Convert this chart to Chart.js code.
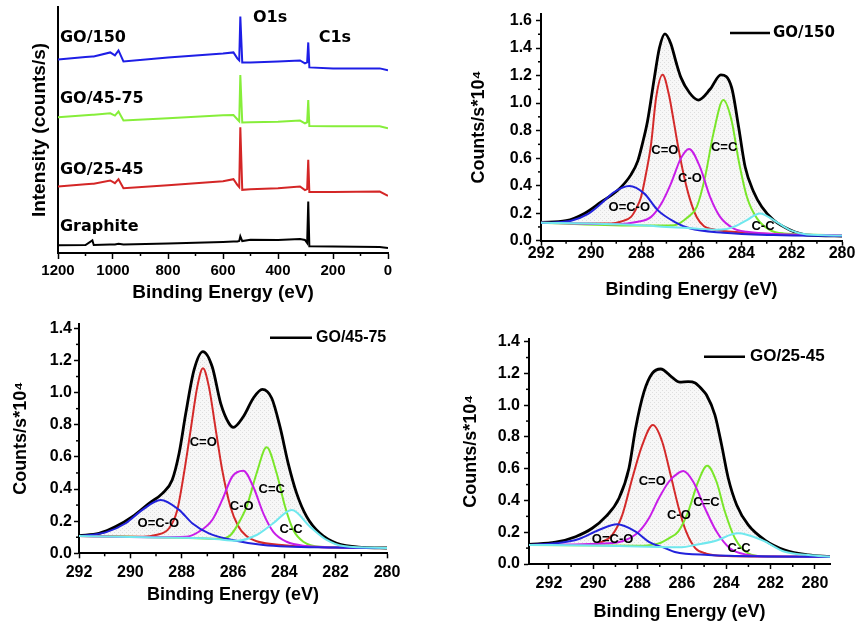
<!DOCTYPE html>
<html>
<head>
<meta charset="utf-8">
<script src="https://cdn.jsdelivr.net/npm/chart.js@4.4.1/dist/chart.umd.min.js"></script>
<style>
  body { margin: 0; background: #fff; }
  #wrap { position: relative; width: 857px; height: 625px; }
  canvas { position: absolute; }
</style>
</head>
<body>
<div id="wrap">
  <canvas id="survey" width="420" height="310" style="left:0;top:0"></canvas>
  <canvas id="go150" width="427" height="310" style="left:430px;top:0"></canvas>
  <canvas id="go4575" width="420" height="315" style="left:0;top:310px"></canvas>
  <canvas id="go2545" width="427" height="315" style="left:430px;top:310px"></canvas>
</div>
<script>
// survey spectra (stacked, arbitrary offset units)
const surveyEnergy = [1200, 1100, 1075, 1070, 1010, 993, 980, 962, 800, 600, 562, 548, 541, 537, 530, 500, 400, 320, 302, 294, 290, 286, 200, 30, 0];
const surveyGO150 = [194, 196.5, 197, 197, 201, 198, 203, 192, 196, 200, 201, 195, 193, 237, 191, 191, 192, 193, 190, 191, 211, 186, 185, 185, 183];
const surveyGO4575 = [136, 138, 138.5, 138.5, 140, 137.7, 141.7, 132.7, 135, 138, 138.3, 134, 132, 178.3, 130.7, 131, 131.5, 132.7, 130, 131, 153.3, 127.3, 127, 127, 125];
const surveyGO2545 = [66.7, 69, 69.5, 69.5, 72.7, 70, 74, 65, 68, 72, 74, 68.3, 66, 126, 63.3, 64, 65, 66.7, 63, 64, 93.3, 61, 61, 61.5, 57.3];
const surveyGraphite = [7.7, 8, 12.7, 8, 8.5, 8.5, 9.3, 8.5, 9.5, 11, 11.5, 11.5, 12, 16.7, 12, 13.3, 13, 14, 13, 10, 51.7, 6.7, 6.5, 6, 5];
const surveyTicks = [0, 200, 400, 600, 800, 1000, 1200];

// C1s fits, GO/150
const go150EnvE = [292, 291, 290.27, 289.6, 288.94, 288.41, 288.14, 287.95, 287.75, 287.48, 287.28, 287.06, 286.82, 286.62, 286.42, 286.08, 285.73, 285.26, 284.83, 284.4, 284.12, 283.86, 283.52, 283.2, 282.73, 282.06, 281.4, 280];
const go150EnvI = [0.133, 0.145, 0.198, 0.282, 0.366, 0.48, 0.58, 0.71, 0.872, 1.185, 1.40, 1.503, 1.43, 1.30, 1.185, 1.075, 1.022, 1.10, 1.205, 1.113, 0.824, 0.535, 0.354, 0.246, 0.15, 0.077, 0.041, 0.034];
const go150CdoE = [292, 290, 289.2, 288.8, 288.41, 288.2, 288.01, 287.8, 287.61, 287.41, 287.15, 286.9, 286.72, 286.55, 286.3, 286.06, 285.79, 285.5, 285.2, 284, 282, 280];
const go150CdoI = [0.13, 0.125, 0.125, 0.14, 0.173, 0.235, 0.318, 0.5, 0.704, 1.04, 1.205, 1.06, 0.88, 0.70, 0.47, 0.30, 0.17, 0.105, 0.085, 0.06, 0.045, 0.04];
const go150CoE = [292, 289, 288.14, 287.61, 287.2, 286.82, 286.42, 286.1, 285.66, 285.26, 284.86, 284.33, 283.8, 282, 280];
const go150CoI = [0.13, 0.12, 0.137, 0.173, 0.27, 0.415, 0.60, 0.667, 0.535, 0.318, 0.173, 0.09, 0.065, 0.045, 0.04];
const go150CdcE = [292, 288, 286.68, 286.15, 285.79, 285.46, 285.13, 284.73, 284.4, 284.12, 283.79, 283.39, 282.87, 282.33, 280];
const go150CdcI = [0.13, 0.11, 0.113, 0.17, 0.246, 0.462, 0.776, 1.022, 0.872, 0.583, 0.318, 0.162, 0.077, 0.053, 0.04];
const go150OcoE = [292, 291.47, 290.8, 290.14, 289.6, 289.08, 288.48, 287.88, 287.35, 286.68, 286.08, 284.73, 282.73, 280];
const go150OcoI = [0.13, 0.133, 0.145, 0.193, 0.27, 0.354, 0.397, 0.342, 0.222, 0.137, 0.09, 0.058, 0.041, 0.034];
const go150CcE = [292, 290, 288, 287, 286, 285, 284.6, 284.32, 283.79, 283.27, 282.73, 282.07, 281.4, 280];
const go150CcI = [0.13, 0.125, 0.112, 0.10, 0.09, 0.08, 0.085, 0.10, 0.15, 0.198, 0.15, 0.077, 0.045, 0.038];

// C1s fits, GO/45-75
const go4575EnvE = [292, 291.22, 290.57, 289.92, 289.27, 288.75, 288.37, 288.1, 287.84, 287.52, 287.17, 286.81, 286.48, 286.16, 285.99, 285.6, 285.21, 284.86, 284.49, 284.17, 283.85, 283.52, 283.13, 282.61, 281.96, 280.92, 280];
const go4575EnvI = [0.11, 0.124, 0.166, 0.228, 0.311, 0.373, 0.456, 0.622, 0.871, 1.14, 1.255, 1.161, 0.933, 0.809, 0.784, 0.85, 0.965, 1.02, 0.965, 0.788, 0.56, 0.373, 0.228, 0.124, 0.062, 0.037, 0.033];
const go4575CdoE = [292, 289.5, 289.01, 288.49, 288.17, 287.91, 287.65, 287.39, 287.17, 286.94, 286.67, 286.42, 286.1, 285.8, 285.5, 285.08, 284, 282, 280];
const go4575CdoI = [0.107, 0.103, 0.114, 0.156, 0.27, 0.498, 0.767, 1.037, 1.151, 1.037, 0.767, 0.518, 0.29, 0.17, 0.11, 0.075, 0.05, 0.036, 0.033];
const go4575CoE = [292, 289, 287.84, 287.33, 286.81, 286.42, 286.03, 285.6, 285.21, 284.82, 284.43, 283.91, 283.13, 282, 280];
const go4575CoI = [0.107, 0.1, 0.103, 0.134, 0.207, 0.332, 0.477, 0.514, 0.414, 0.249, 0.134, 0.072, 0.045, 0.036, 0.033];
const go4575CdcE = [292, 288, 286.5, 286.12, 285.86, 285.47, 285.08, 284.69, 284.3, 283.97, 283.65, 283.26, 282.61, 280];
const go4575CdcI = [0.107, 0.097, 0.09, 0.11, 0.166, 0.29, 0.498, 0.66, 0.498, 0.29, 0.145, 0.072, 0.041, 0.033];
const go4575OcoE = [292, 290.96, 290.18, 289.53, 288.82, 288.1, 287.59, 286.94, 286.03, 284.82, 282, 280];
const go4575OcoI = [0.107, 0.13, 0.187, 0.27, 0.332, 0.27, 0.187, 0.124, 0.083, 0.052, 0.036, 0.033];
const go4575CcE = [292, 289.4, 286.81, 285.86, 285.08, 284.43, 283.71, 283.0, 282.35, 281.7, 280];
const go4575CcI = [0.107, 0.10, 0.091, 0.078, 0.114, 0.187, 0.27, 0.166, 0.083, 0.045, 0.033];

// C1s fits, GO/25-45
const go2545EnvE = [292.9, 291.7, 290.8, 290.05, 289.44, 288.84, 288.39, 288.09, 287.71, 287.34, 286.96, 286.44, 286.1, 285.72, 285.4, 285.1, 284.89, 284.51, 284.21, 283.91, 283.53, 283.01, 282.26, 281.36, 280.3, 279.32];
const go2545EnvI = [0.124, 0.137, 0.172, 0.225, 0.298, 0.414, 0.603, 0.855, 1.085, 1.2, 1.228, 1.175, 1.145, 1.148, 1.14, 1.10, 1.064, 0.938, 0.749, 0.54, 0.372, 0.246, 0.151, 0.088, 0.057, 0.046];
const go2545CdoE = [292.9, 290.5, 289.6, 289.14, 288.69, 288.24, 287.79, 287.31, 286.89, 286.51, 286.14, 285.8, 285.4, 284.9, 284, 282, 279.32];
const go2545CdoI = [0.12, 0.12, 0.14, 0.183, 0.309, 0.54, 0.749, 0.875, 0.77, 0.56, 0.35, 0.2, 0.1, 0.065, 0.05, 0.047, 0.046];
const go2545CoE = [292.9, 289.29, 288.54, 287.94, 287.49, 287.04, 286.59, 286.14, 285.94, 285.49, 284.96, 284.44, 283.84, 283.01, 282, 279.32];
const go2545CoI = [0.12, 0.13, 0.151, 0.204, 0.288, 0.414, 0.518, 0.575, 0.586, 0.518, 0.351, 0.204, 0.099, 0.057, 0.047, 0.046];
const go2545CdcE = [292.9, 288, 287.04, 286.59, 286.17, 285.72, 285.27, 284.86, 284.44, 284.06, 283.61, 283.01, 282.26, 279.32];
const go2545CdcI = [0.12, 0.115, 0.13, 0.162, 0.204, 0.329, 0.518, 0.619, 0.518, 0.329, 0.162, 0.067, 0.048, 0.046];
const go2545OcoE = [292.9, 291.7, 290.65, 289.75, 288.92, 288.09, 287.49, 286.74, 286.32, 284.81, 282, 279.32];
const go2545OcoI = [0.12, 0.13, 0.157, 0.214, 0.25, 0.204, 0.14, 0.099, 0.076, 0.057, 0.048, 0.046];
const go2545CcE = [292.9, 290, 288, 286, 285.41, 284.51, 283.47, 282.4, 281.36, 280.3, 279.32];
const go2545CcI = [0.12, 0.117, 0.11, 0.105, 0.12, 0.145, 0.193, 0.151, 0.077, 0.057, 0.046];

const beTicks = [280, 282, 284, 286, 288, 290, 292];
const countTicks16 = [0, 0.2, 0.4, 0.6, 0.8, 1.0, 1.2, 1.4, 1.6];
const countTicks14 = [0, 0.2, 0.4, 0.6, 0.8, 1.0, 1.2, 1.4];

const SANS = "'Liberation Sans', Arial, sans-serif";
Chart.defaults.font.family = SANS;
Chart.defaults.font.weight = 'bold';
Chart.defaults.color = '#000';

const pts = (xs, ys) => xs.map((x, i) => ({x: x, y: ys[i]}));
const mids = vals => vals.slice(1).map((v, i) => (v + vals[i]) / 2);
const setTicks = vals => scale => { scale.ticks = vals.map(v => ({value: v})); };

// short unlabelled ticks between the major ones
const minorTicks = {
  id: 'minorTicks',
  afterDraw(chart, args, opts) {
    const ctx = chart.ctx;
    ctx.save();
    ctx.strokeStyle = '#000';
    ctx.lineWidth = 1.5;
    ['x', 'y'].forEach(id => {
      const scale = chart.scales[id];
      if (!opts[id]) return;
      opts[id].forEach(v => {
        const p = scale.getPixelForValue(v);
        ctx.beginPath();
        if (id === 'x') { ctx.moveTo(p, scale.top); ctx.lineTo(p, scale.top + opts.len); }
        else { ctx.moveTo(scale.right, p); ctx.lineTo(scale.right - opts.len, p); }
        ctx.stroke();
      });
    });
    ctx.restore();
  }
};

// in-plot labels and the one-line key
const notes = {
  id: 'notes',
  afterDatasetsDraw(chart, args, opts) {
    const {ctx, scales: {x, y}} = chart;
    ctx.save();
    ctx.fillStyle = '#000';
    ctx.textBaseline = 'middle';
    (opts.items || []).forEach(n => {
      ctx.font = n.font;
      ctx.textAlign = n.align || 'center';
      ctx.fillText(n.text, x.getPixelForValue(n.x), y.getPixelForValue(n.y));
    });
    const k = opts.key;
    if (k) {
      ctx.strokeStyle = '#000';
      ctx.lineWidth = 2.5;
      ctx.beginPath(); ctx.moveTo(k.x0, k.y); ctx.lineTo(k.x1, k.y); ctx.stroke();
      ctx.font = k.font;
      ctx.textAlign = 'left';
      ctx.fillText(chart.data.datasets[0].label, k.x1 + k.gap, k.y);
    }
    ctx.restore();
  }
};
Chart.register(minorTicks, notes);

function stipple(ctx) {
  const c = document.createElement('canvas');
  c.width = 4; c.height = 4;
  const g = c.getContext('2d');
  g.fillStyle = '#f7f7f7'; g.fillRect(0, 0, 4, 4);
  g.fillStyle = '#dedede'; g.fillRect(0, 0, 1, 1); g.fillRect(2, 2, 1, 1);
  return ctx.createPattern(c, 'repeat');
}

// ---- survey panel ----
const lbl = "bold 16px 'DejaVu Sans'";
new Chart(document.getElementById('survey'), {
  type: 'line',
  data: {
    datasets: [
      {label: 'GO/150', data: pts(surveyEnergy, surveyGO150), borderColor: '#1e1ee6'},
      {label: 'GO/45-75', data: pts(surveyEnergy, surveyGO4575), borderColor: '#86ee3a'},
      {label: 'GO/25-45', data: pts(surveyEnergy, surveyGO2545), borderColor: '#d42626'},
      {label: 'Graphite', data: pts(surveyEnergy, surveyGraphite), borderColor: '#000'}
    ]
  },
  options: {
    responsive: false,
    animation: false,
    layout: {padding: {left: 0, top: 7, right: 32, bottom: 0}},
    elements: {point: {radius: 0}, line: {tension: 0, borderWidth: 2}},
    plugins: {
      legend: {display: false},
      tooltip: {enabled: false},
      minorTicks: {x: mids(surveyTicks), len: 3},
      notes: {items: [
        {text: 'GO/150', x: 1193, y: 216, align: 'left', font: lbl},
        {text: 'GO/45-75', x: 1193, y: 154.5, align: 'left', font: lbl},
        {text: 'GO/25-45', x: 1193, y: 83, align: 'left', font: lbl},
        {text: 'Graphite', x: 1193, y: 26, align: 'left', font: lbl},
        {text: 'O1s', x: 429, y: 236, font: lbl},
        {text: 'C1s', x: 193, y: 216, font: lbl}
      ]}
    },
    scales: {
      x: {
        type: 'linear', reverse: true, min: 0, max: 1200,
        afterFit: s => { s.height = 57; },
        afterBuildTicks: setTicks(surveyTicks),
        ticks: {font: {size: 15}, padding: 3, maxRotation: 0, autoSkip: false, callback: v => String(v)},
        grid: {drawOnChartArea: false, tickLength: 6, tickWidth: 1.5, tickColor: '#000'},
        border: {color: '#000', width: 2},
        title: {display: true, text: 'Binding Energy (eV)', font: {size: 19}, padding: {top: 0, bottom: 5.6}}
      },
      y: {
        min: 0, max: 246.5,
        afterFit: s => { s.width = 58; },
        ticks: {display: false},
        grid: {display: false},
        border: {color: '#000', width: 2},
        title: {display: true, text: 'Intensity (counts/s)', font: {size: 19}, padding: {top: 28.6, bottom: 0}}
      }
    }
  }
});

// ---- C1s fit panels ----
const small = "bold 13px 'Liberation Sans'";
function fitPanel(id, p) {
  const cv = document.getElementById(id);
  const ctx = cv.getContext('2d');
  const line = (label, xs, ys, color, order) => ({label: label, data: pts(xs, ys), borderColor: color, borderWidth: 2, order: order});
  const datasets = [
    {label: p.name, data: pts(p.env[0], p.env[1]), borderColor: '#000', borderWidth: 2.8,
     fill: {target: 5}, backgroundColor: stipple(ctx), order: 10},
    line('C=O', p.cdo[0], p.cdo[1], '#d42a2a', 6),
    line('C=C', p.cdc[0], p.cdc[1], '#7ae62a', 5),
    line('C-O', p.co[0], p.co[1], '#c81ee8', 4),
    line('O=C-O', p.oco[0], p.oco[1], '#2222dc', 2),
    line('C-C', p.cc[0], p.cc[1], '#70e8ee', 1)
  ];
  new Chart(cv, {
    type: 'line',
    data: {datasets: datasets},
    options: {
      responsive: false,
      animation: false,
      layout: {padding: {left: 0, top: p.area.top, right: cv.width - p.area.right, bottom: 0}},
      elements: {point: {radius: 0}, line: {cubicInterpolationMode: 'monotone'}},
      plugins: {
        legend: {display: false},
        tooltip: {enabled: false},
        minorTicks: {x: mids(beTicks), y: mids(p.yTicks), len: 3},
        notes: {
          items: p.labels.map(l => ({text: l[0], x: l[1], y: l[2], font: small})),
          key: p.key
        }
      },
      scales: {
        x: {
          type: 'linear', reverse: true, min: p.xMin, max: p.xMax,
          afterFit: s => { s.height = cv.height - p.area.bottom; },
          afterBuildTicks: setTicks(beTicks),
          ticks: {font: {size: 16}, padding: p.xPad, maxRotation: 0, autoSkip: false, callback: v => String(v)},
          grid: {drawOnChartArea: false, tickLength: 5, tickWidth: 1.5, tickColor: '#000'},
          border: {color: '#000', width: 2},
          title: {display: true, text: 'Binding Energy (eV)', font: {size: 18}, padding: {top: 0, bottom: p.xTitle}}
        },
        y: {
          min: 0, max: p.yMax,
          afterFit: s => { s.width = p.area.left; },
          afterBuildTicks: setTicks(p.yTicks),
          ticks: {font: {size: 16}, padding: p.yPad, callback: v => v.toFixed(1)},
          grid: {drawOnChartArea: false, tickLength: 5, tickWidth: 1.5, tickColor: '#000'},
          border: {color: '#000', width: 2},
          title: {display: true, text: 'Counts/s*10\u2074', font: {size: 18}, padding: {top: p.yTitle, bottom: 0}}
        }
      }
    }
  });
}

fitPanel('go150', {
  name: 'GO/150',
  env: [go150EnvE, go150EnvI], cdo: [go150CdoE, go150CdoI], co: [go150CoE, go150CoI],
  cdc: [go150CdcE, go150CdcI], oco: [go150OcoE, go150OcoI], cc: [go150CcE, go150CcI],
  xMin: 280, xMax: 292, yMax: 1.65, yTicks: countTicks16,
  area: {left: 111, top: 12.3, right: 412, bottom: 240.7},
  xPad: -2, yPad: 4, xTitle: 9.2, yTitle: 38.2,
  key: {x0: 300, x1: 340, y: 33, gap: 3, font: "bold 15px 'DejaVu Sans'"},
  labels: [['C=O', 287.06, 0.655], ['C-O', 286.06, 0.45], ['C=C', 284.7, 0.68], ['O=C-O', 288.48, 0.241], ['C-C', 283.15, 0.106]]
});

fitPanel('go4575', {
  name: 'GO/45-75',
  env: [go4575EnvE, go4575EnvI], cdo: [go4575CdoE, go4575CdoI], co: [go4575CoE, go4575CoI],
  cdc: [go4575CdcE, go4575CdcI], oco: [go4575OcoE, go4575OcoI], cc: [go4575CcE, go4575CcI],
  xMin: 280, xMax: 292, yMax: 1.43, yTicks: countTicks14,
  area: {left: 79, top: 13.5, right: 387, bottom: 243.3},
  xPad: 4.4, yPad: 2, xTitle: 19.2, yTitle: 10.2,
  key: {x0: 270, x1: 312, y: 27.7, gap: 4, font: "bold 16px 'Liberation Sans'"},
  labels: [['C=O', 287.16, 0.688], ['C-O', 285.66, 0.29], ['C=C', 284.49, 0.40], ['O=C-O', 288.91, 0.187], ['C-C', 283.74, 0.149]]
});

fitPanel('go2545', {
  name: 'GO/25-45',
  env: [go2545EnvE, go2545EnvI], cdo: [go2545CdoE, go2545CdoI], co: [go2545CoE, go2545CoI],
  cdc: [go2545CdcE, go2545CdcI], oco: [go2545OcoE, go2545OcoI], cc: [go2545CcE, go2545CcI],
  xMin: 279.32, xMax: 292.9, yMax: 1.42, yTicks: countTicks14,
  area: {left: 99, top: 28.5, right: 400, bottom: 254},
  xPad: 5, yPad: 4, xTitle: 2.5, yTitle: 29.9,
  key: {x0: 274, x1: 315, y: 46.7, gap: 5, font: "bold 17px 'Liberation Sans'"},
  labels: [['C=O', 287.34, 0.523], ['C-O', 286.14, 0.304], ['C=C', 284.89, 0.388], ['O=C-O', 289.13, 0.155], ['C-C', 283.42, 0.097]]
});
</script>
</body>
</html>
